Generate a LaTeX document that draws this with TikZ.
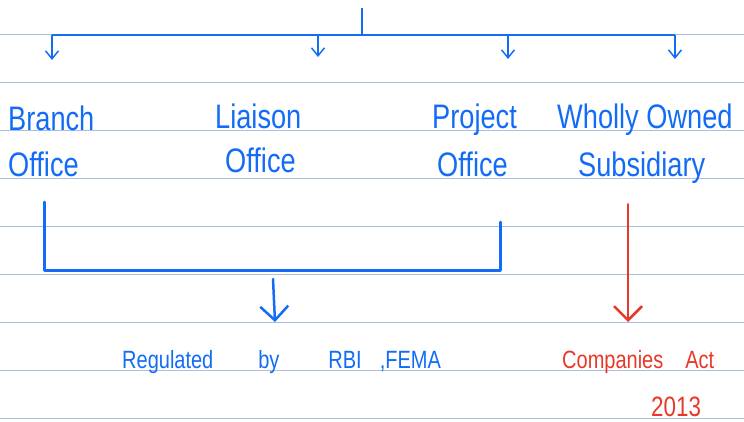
\documentclass[tikz,border=0pt]{standalone}
\usepackage{fontspec}
\setmainfont{Liberation Sans}
\newfontfamily\handfont[FakeStretch=0.8]{Liberation Sans}
\usetikzlibrary{arrows.meta}
\definecolor{ink}{RGB}{18,108,245}
\definecolor{redink}{RGB}{232,56,40}
\definecolor{ruling}{RGB}{168,190,228}

\begin{document}
\begin{tikzpicture}[x=1pt,y=-1pt,
		lbl/.style={anchor=base west,inner sep=0pt,text=ink,font=\handfont\fontsize{34}{36}\selectfont},
		note/.style={anchor=base west,inner sep=0pt,font=\handfont\fontsize{25}{28}\selectfont},
		branchline/.style={draw=ink,line width=1.5pt},
		smallarrow/.style={branchline,-{Straight Barb[length=8pt,width=13pt,line width=1.5pt]}},
		bracket/.style={draw=ink,line width=3pt,line cap=round,line join=round},
		bigarrow/.style={line width=2.5pt,line cap=round,-{Straight Barb[length=14pt,width=28pt,line width=2.5pt]}}]
		\useasboundingbox (0,0) rectangle (744,421);
		% ruled paper
		\foreach \y in {34,82,...,418}
		\draw[ruling,line width=0.8pt] (0,\y) -- (744,\y);
		
		% labels
		\node[lbl] (branch)   at (8,130)   {Branch};
		\node[lbl] (branchof) at (8,176)   {Office};
		\node[lbl] (liaison)  at (215,128) {Liaison};
		\node[lbl] (liaisof)  at (225,172) {Office};
		\node[lbl] (project)  at (432,128) {Project};
		\node[lbl] (projof)   at (437,176) {Office};
		\node[lbl] (wholly)   at (557,128) {Wholly Owned};
		\node[lbl] (subsid)   at (578,176) {Subsidiary};
		\node[note,text=ink] (rbi) at (122,368) {Regulated\hspace{45pt}by\hspace{49pt}RBI\hspace{18pt},FEMA};
		\node[note,text=redink] (compact) at (562,368) {Companies\hspace{22pt}Act};
		\node[note,text=redink,font=\handfont\fontsize{28}{30}\selectfont] (year) at (651,416) {2013};
		
		% tree at the top
		\coordinate (root) at (362,8);
		\coordinate (hub)  at (362,35);
		\coordinate (tipA) at (52,60);
		\coordinate (tipB) at (318,57);
		\coordinate (tipC) at (508,59);
		\coordinate (tipD) at (675,59);
		\draw[branchline] (root) -- (hub);
		\draw[branchline] (hub -| tipA) -- (hub -| tipD);
		\foreach \t in {tipA,tipB,tipC,tipD}
		\draw[smallarrow] (hub -| \t) -- (\t);
		
		% bracket and arrows below
		\coordinate (brL) at (44,202);
		\coordinate (brR) at (500,222);
		\coordinate (brM) at (272,270);
		\draw[bracket] (brL) |- (brM) -| (brR);
		\coordinate (regtop) at (273,279);
		\coordinate (regtip) at (275,322);
		\draw[bigarrow,ink] (regtop) -- (regtip);
		\coordinate (redtop) at (628,204);
		\coordinate (redtip) at (628,322);
		\draw[bigarrow,redink,line width=2pt] (redtop) -- (redtip);
\end{tikzpicture}
\end{document}
